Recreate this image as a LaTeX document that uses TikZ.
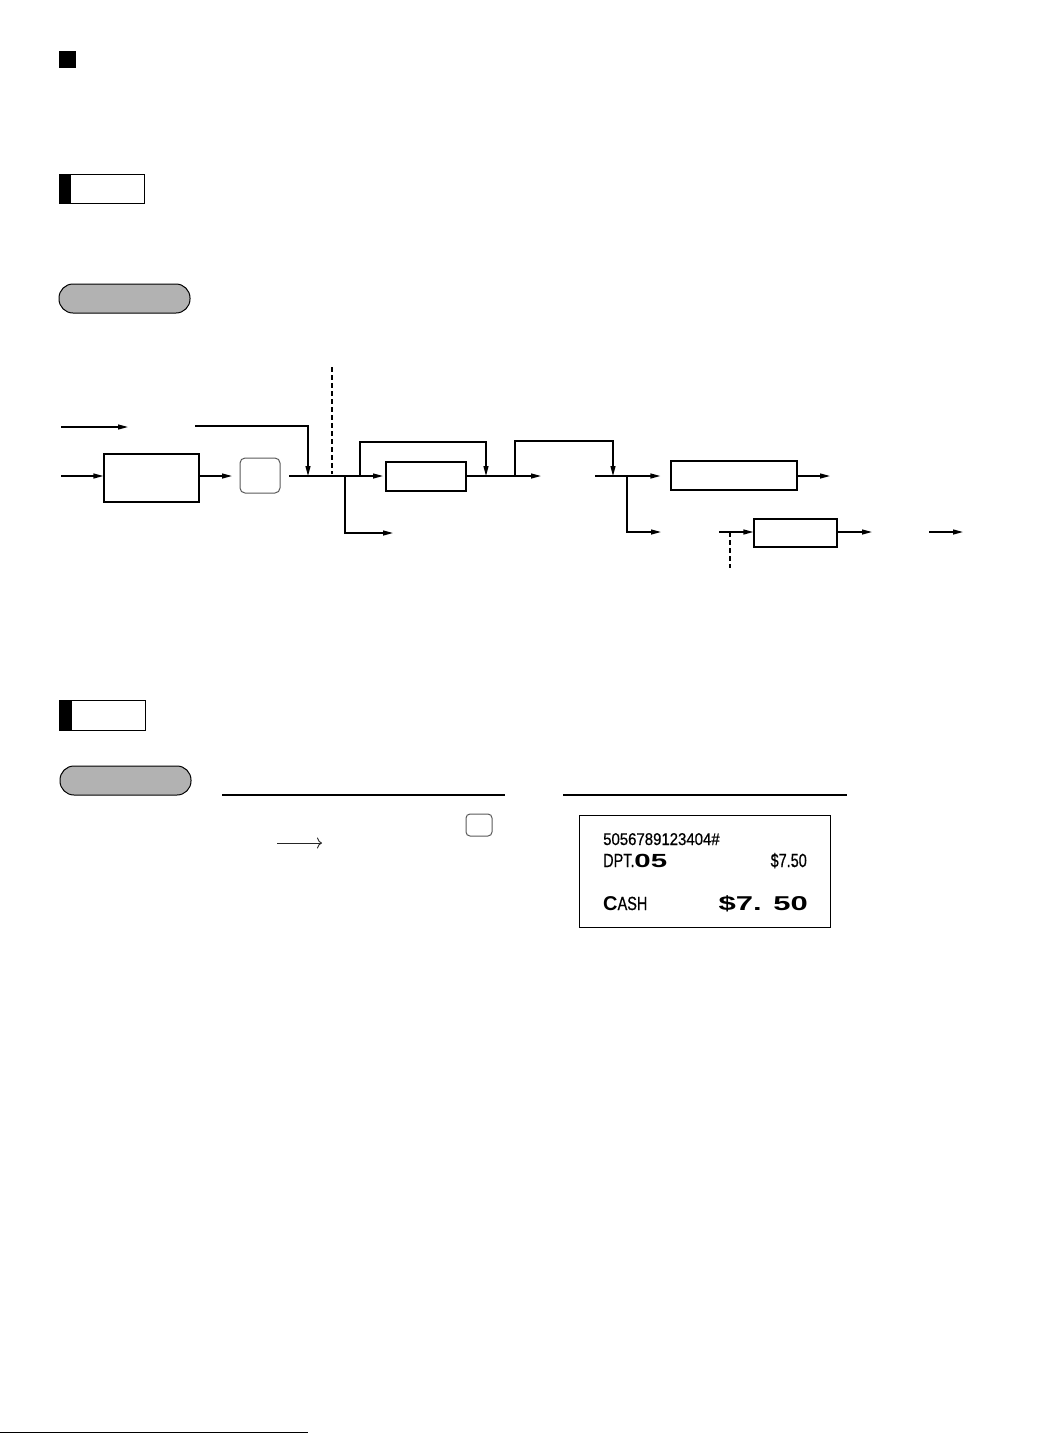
\documentclass[tikz,border=0pt]{standalone}
\usepackage{fontspec}
\setmainfont{Liberation Sans}
\newfontfamily\rcptA[FakeStretch=0.88,FakeBold=0.6]{Liberation Sans}
\newfontfamily\rcptN[FakeStretch=0.76,FakeBold=0.6]{Liberation Sans}
\newfontfamily\rcptW[FakeStretch=1.55]{Liberation Sans}
\usetikzlibrary{arrows.meta}
\begin{document}
\begin{tikzpicture}[x=1pt,y=-1pt,
  ln/.style={line width=1.3pt},
  arr/.style={ln,-{Triangle[length=10pt,width=5pt]}},
  dsh/.style={line width=1.1pt,dash pattern=on 5pt off 3pt},
  boxn/.style={draw,ln,minimum width=#1,inner sep=0pt},
  keyn/.style={draw=black!65,line width=1pt,rounded corners=5pt,inner sep=0pt},
  pill/.style={draw,line width=1pt,fill=black!30,rounded corners=14pt,inner sep=0pt},
  rtxt/.style={inner sep=0pt}]
\useasboundingbox (0,0) rectangle (1047,1433);

% ---- header marks ----
\node[fill=black,minimum width=17pt,minimum height=17pt,inner sep=0pt] (sq) at (67.5,59.5) {};
\node[draw,line width=1pt,minimum width=85pt,minimum height=29pt,inner sep=0pt] (tag1) at (102,188.5) {};
\fill (tag1.north west) rectangle ([xshift=12pt]tag1.south west);
\node[pill,minimum width=131pt,minimum height=29pt] (pill1) at (124.5,298.5) {};

% ---- flow chart ----
\node[boxn=95pt,minimum height=48pt] (b1) at (151.5,478) {};
\node[keyn,minimum width=40pt,minimum height=35pt] (key1) at (260,475.5) {};
\node[boxn=80pt,minimum height=29pt] (b2) at (426,476.5) {};
\node[boxn=126pt,minimum height=29pt] (b3) at (734,475.5) {};
\node[boxn=83pt,minimum height=28pt] (b4) at (795.5,533) {};

\coordinate (in1a) at (61,427);  \coordinate (in1b) at (128,427);
\coordinate (in2a) at (61,476);
\coordinate (in3a) at (195,426); \coordinate (j0) at (308,476);
\coordinate (k0) at (199,476);   \coordinate (k1) at (232,476);
\coordinate (m0) at (289,476);   \coordinate (m1) at (383,476);
\coordinate (j1) at (345,476);   \coordinate (e1) at (393,533);
\coordinate (j2) at (360,476);   \coordinate (u1) at (360,442);
\coordinate (u2) at (486,442);   \coordinate (j3) at (486,476);
\coordinate (e2) at (541,476);
\coordinate (j4) at (515,476);   \coordinate (u3) at (515,441);
\coordinate (u4) at (613,441);   \coordinate (j5) at (613,476);
\coordinate (m2) at (595,476);
\coordinate (j6) at (627,476);   \coordinate (e3) at (661,532);
\coordinate (e4) at (830,476);
\coordinate (m3) at (719,532);
\coordinate (d1) at (730,532);   \coordinate (d2) at (730,568);
\coordinate (e5) at (872,532);
\coordinate (f1) at (929,532);   \coordinate (f2) at (963,532);
\coordinate (d3) at (332,367);   \coordinate (d4) at (332,474);

\draw[arr] (in1a) -- (in1b);
\draw[arr] (in2a) -- (in2a -| b1.west);
\draw[arr] (in3a) -| (j0);
\draw[arr] (k0 -| b1.east) -- (k1);
\draw[arr] (m0) -- (m1);
\draw[arr] (j1) |- (e1);
\draw[arr] (j2) -- (u1) -- (u2) -- (j3);
\draw[arr] (b2.east |- e2) -- (e2);
\draw[arr] (j4) -- (u3) -- (u4) -- (j5);
\draw[arr,shorten >=10pt] (m2) -- (m2 -| b3.west);
\draw[arr] (j6) |- (e3);
\draw[arr] (b3.east |- e4) -- (e4);
\draw[arr] (m3) -- (m3 -| b4.west);
\draw[dsh] (d1) -- (d2);
\draw[arr] (b4.east |- e5) -- (e5);
\draw[arr] (f1) -- (f2);
\draw[dsh] (d3) -- (d4);

% ---- second section ----
\node[draw,line width=1pt,minimum width=86pt,minimum height=30pt,inner sep=0pt] (tag2) at (102,715) {};
\fill (tag2.north west) rectangle ([xshift=13pt]tag2.south west);
\node[pill,minimum width=131pt,minimum height=29pt] (pill2) at (125.5,780.5) {};

\coordinate (h1a) at (222,795); \coordinate (h1b) at (505,795);
\coordinate (h2a) at (563,795); \coordinate (h2b) at (847,795);
\draw[line width=1.1pt] (h1a) -- (h1b);
\draw[line width=1.1pt] (h2a) -- (h2b);

\node[keyn,minimum width=26pt,minimum height=22pt,rounded corners=4pt] (key2) at (479,825) {};
\coordinate (ar1) at (277,843); \coordinate (ar2) at (322,843);
\draw[line width=0.9pt,black!85,-{Computer Modern Rightarrow[length=5pt,width=11pt]}] (ar1) -- (ar2);

% ---- receipt ----
\node[draw,line width=1pt,minimum width=251pt,minimum height=112pt,inner sep=0pt] (rc) at (704.5,871) {};
\node[rtxt,anchor=base west,font=\rcptA\fontsize{17}{17}\selectfont] (r1) at (603,845) {5056789123404\#};
\node[rtxt,anchor=base west] (r2) at (603,867) {\rcptN\fontsize{19}{19}\selectfont DPT.\rcptW\bfseries\fontsize{19}{19}\selectfont 05};
\node[rtxt,anchor=base east,font=\rcptN\fontsize{19}{19}\selectfont] (r3) at (807,867) {\$7.50};
\node[rtxt,anchor=base west] (r4) at (603,910) {{\bfseries\fontsize{20}{20}\selectfont C}{\rcptN\fontsize{19}{19}\selectfont ASH}};
\node[rtxt,anchor=base east,font=\rcptW\bfseries\fontsize{20}{20}\selectfont] (r5) at (808,910) {\$7. 50};

% ---- bottom rule ----
\coordinate (bl1) at (0,1432); \coordinate (bl2) at (308,1432);
\draw[line width=1pt] (bl1) -- (bl2);
\end{tikzpicture}
\end{document}
